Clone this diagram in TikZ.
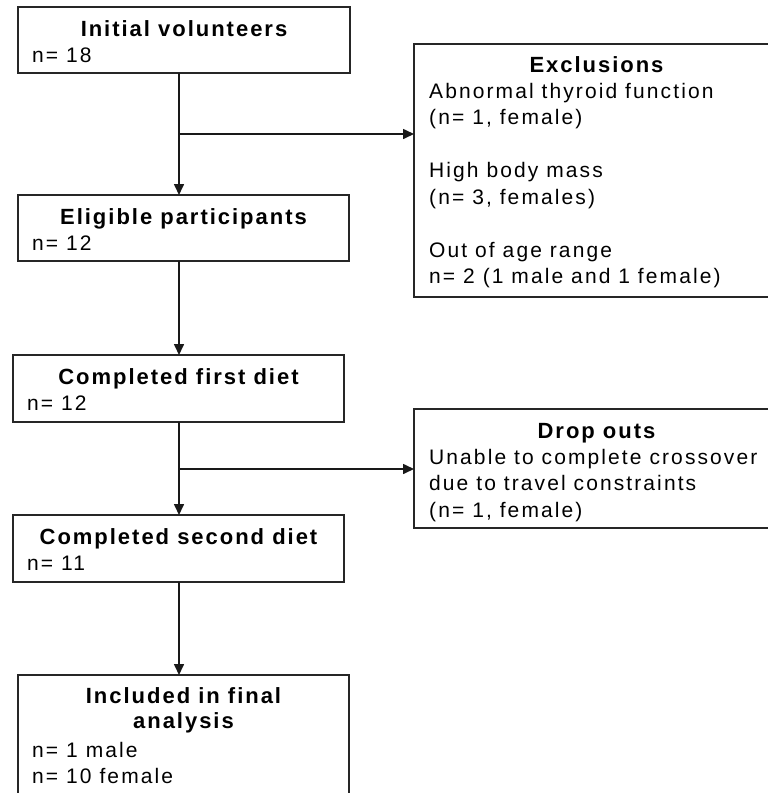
\documentclass[tikz,border=0pt]{standalone}
\usepackage{fontspec}
\setmainfont{Liberation Sans}[LetterSpace=10,BoldFeatures={LetterSpace=9}]
\usetikzlibrary{arrows.meta}
\begin{document}
\begin{tikzpicture}[x=1pt,y=-1pt,
 box/.style={draw=black!85, line width=1.8pt, inner sep=0pt, outer sep=0pt, anchor=north west},
 ttl/.style={anchor=base, inner sep=0pt, font=\fontsize{22}{25}\selectfont\bfseries},
 txt/.style={anchor=base west, inner sep=0pt, font=\fontsize{21}{26}\selectfont},
 arr/.style={draw=black!90, line width=1.6pt, -{Triangle[length=11pt,width=10pt]}}]
\clip (0,0) rectangle (768,793);
\fill[white] (0,0) rectangle (768,793);
% boxes
\node[box, minimum width=332pt, minimum height=66pt] (b1) at (18,7) {};
\node[box, minimum width=331pt, minimum height=66pt] (b2) at (18,195) {};
\node[box, minimum width=331pt, minimum height=67pt] (b3) at (13,355) {};
\node[box, minimum width=331pt, minimum height=67pt] (b4) at (13,515) {};
\node[box, minimum width=331pt, minimum height=140pt] (b5) at (18,675) {};
\node[box, minimum width=365pt, minimum height=253pt] (ex) at (414,44) {};
\node[box, minimum width=365pt, minimum height=119pt] (dr) at (414,409) {};
% texts
\node[ttl] (t1) at (184,36) {Initial volunteers};
\node[txt] (n1) at (32,62) {n= 18};
\node[ttl] (t2) at (183.5,224) {Eligible participants};
\node[txt] (n2) at (32,250) {n= 12};
\node[ttl] (t3) at (178.5,384) {Completed first diet};
\node[txt] (n3) at (27,410) {n= 12};
\node[ttl] (t4) at (178.5,544) {Completed second diet};
\node[txt] (n4) at (27,570) {n= 11};
\node[ttl] (t5a) at (183.5,703) {Included in final};
\node[ttl] (t5b) at (183.5,728) {analysis};
\node[txt] (n5a) at (32,757) {n= 1 male};
\node[txt] (n5b) at (32,783) {n= 10 female};
\node[ttl] (te) at (596.5,72) {Exclusions};
\node[txt] (e1) at (429,98) {Abnormal thyroid function};
\node[txt] (e2) at (429,124.5) {(n= 1, female)};
\node[txt] (e3) at (429,177.5) {High body mass};
\node[txt] (e4) at (429,204) {(n= 3, females)};
\node[txt] (e5) at (429,257) {Out of age range};
\node[txt] (e6) at (429,283.5) {n= 2 (1 male and 1 female)};
\node[ttl] (td) at (596.5,438) {Drop outs};
\node[txt] (d1) at (429,464) {Unable to complete crossover};
\node[txt] (d2) at (429,490.5) {due to travel constraints};
\node[txt] (d3) at (429,517) {(n= 1, female)};
% connectors
\coordinate (j1) at (179,134);
\coordinate (j2) at (179,469);
\draw[arr] (b1.south -| j1) -- (b2.north -| j1);
\draw[arr] (j1) -- (j1 -| ex.west);
\draw[arr] (b2.south -| j1) -- (b3.north -| j1);
\draw[arr] (b3.south -| j2) -- (b4.north -| j2);
\draw[arr] (j2) -- (j2 -| dr.west);
\draw[arr] (b4.south -| j2) -- (b5.north -| j2);
\end{tikzpicture}
\end{document}
